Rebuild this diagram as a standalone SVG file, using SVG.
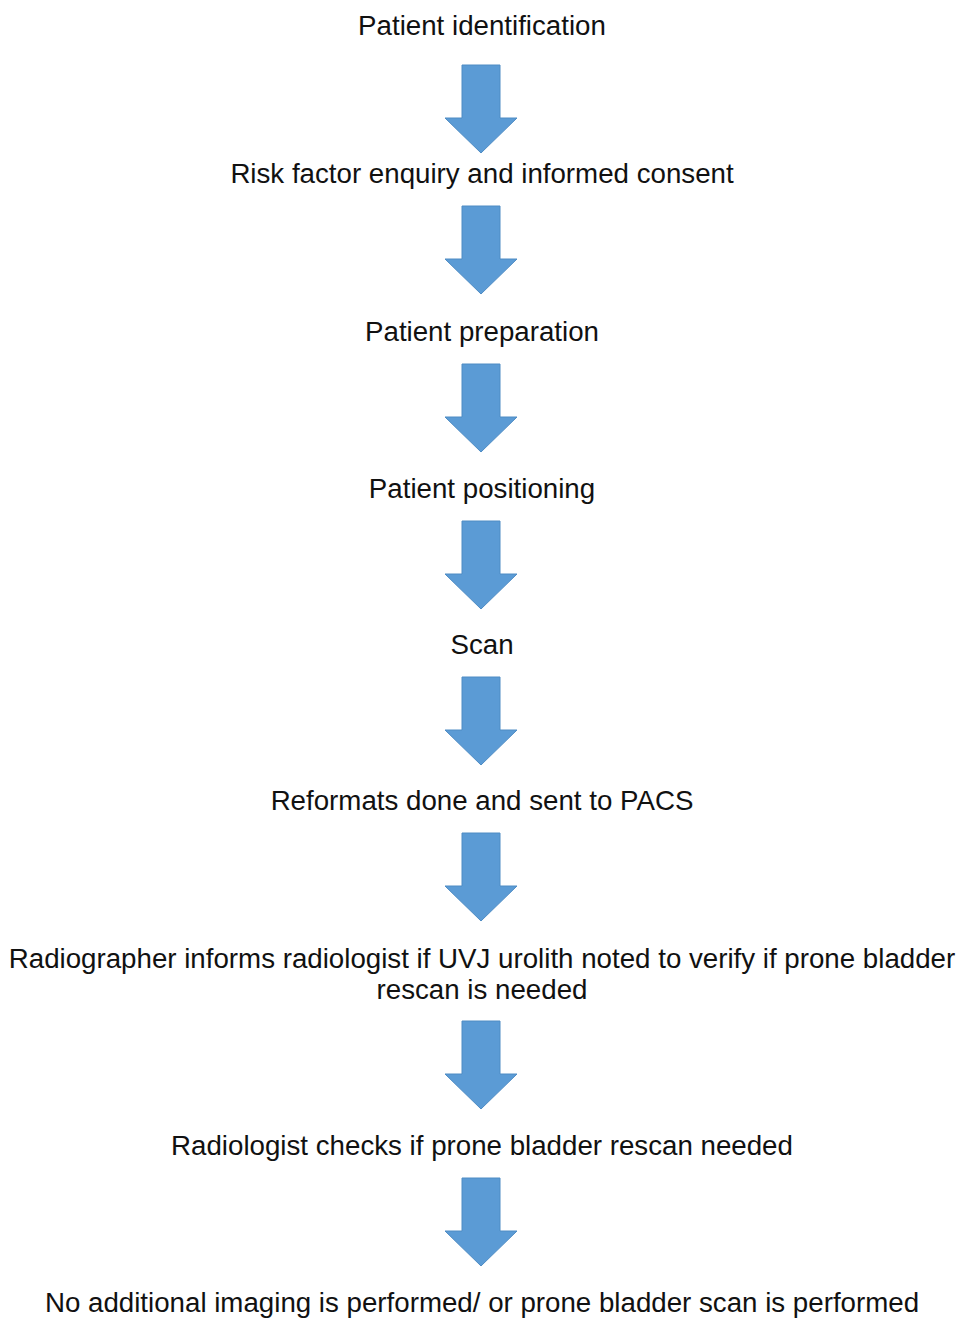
<svg xmlns="http://www.w3.org/2000/svg" width="961" height="1318" viewBox="0 0 961 1318">
<defs>
<style>
.t{font-family:"Liberation Sans",Arial,sans-serif;font-size:27.7px;fill:#111;text-anchor:middle}
.a{fill:#5b9bd5;stroke:#4f8cc4;stroke-width:1}
</style>
<path id="arr" d="M-19,0 H19 V53 H36 L0,88 L-36,53 H-19 Z"/>
</defs>
<rect width="961" height="1318" fill="#fff"/>
<g id="connectors">
<use href="#arr" class="a" transform="translate(481,65)"/>
<use href="#arr" class="a" transform="translate(481,206)"/>
<use href="#arr" class="a" transform="translate(481,364)"/>
<use href="#arr" class="a" transform="translate(481,521)"/>
<use href="#arr" class="a" transform="translate(481,677)"/>
<use href="#arr" class="a" transform="translate(481,833)"/>
<use href="#arr" class="a" transform="translate(481,1021)"/>
<use href="#arr" class="a" transform="translate(481,1178)"/>
</g>
<g id="n1"><text class="t" x="482" y="35">Patient identification</text></g>
<g id="n2"><text class="t" x="482" y="183">Risk factor enquiry and informed consent</text></g>
<g id="n3"><text class="t" x="482" y="341">Patient preparation</text></g>
<g id="n4"><text class="t" x="482" y="498">Patient positioning</text></g>
<g id="n5"><text class="t" x="482" y="654">Scan</text></g>
<g id="n6"><text class="t" x="482" y="810">Reformats done and sent to PACS</text></g>
<g id="n7"><text class="t" x="482" y="968">Radiographer informs radiologist if UVJ urolith noted to verify if prone bladder</text><text class="t" x="482" y="999">rescan is needed</text></g>
<g id="n8"><text class="t" x="482" y="1155">Radiologist checks if prone bladder rescan needed</text></g>
<g id="n9"><text class="t" x="482" y="1312">No additional imaging is performed/ or prone bladder scan is performed</text></g>
</svg>
